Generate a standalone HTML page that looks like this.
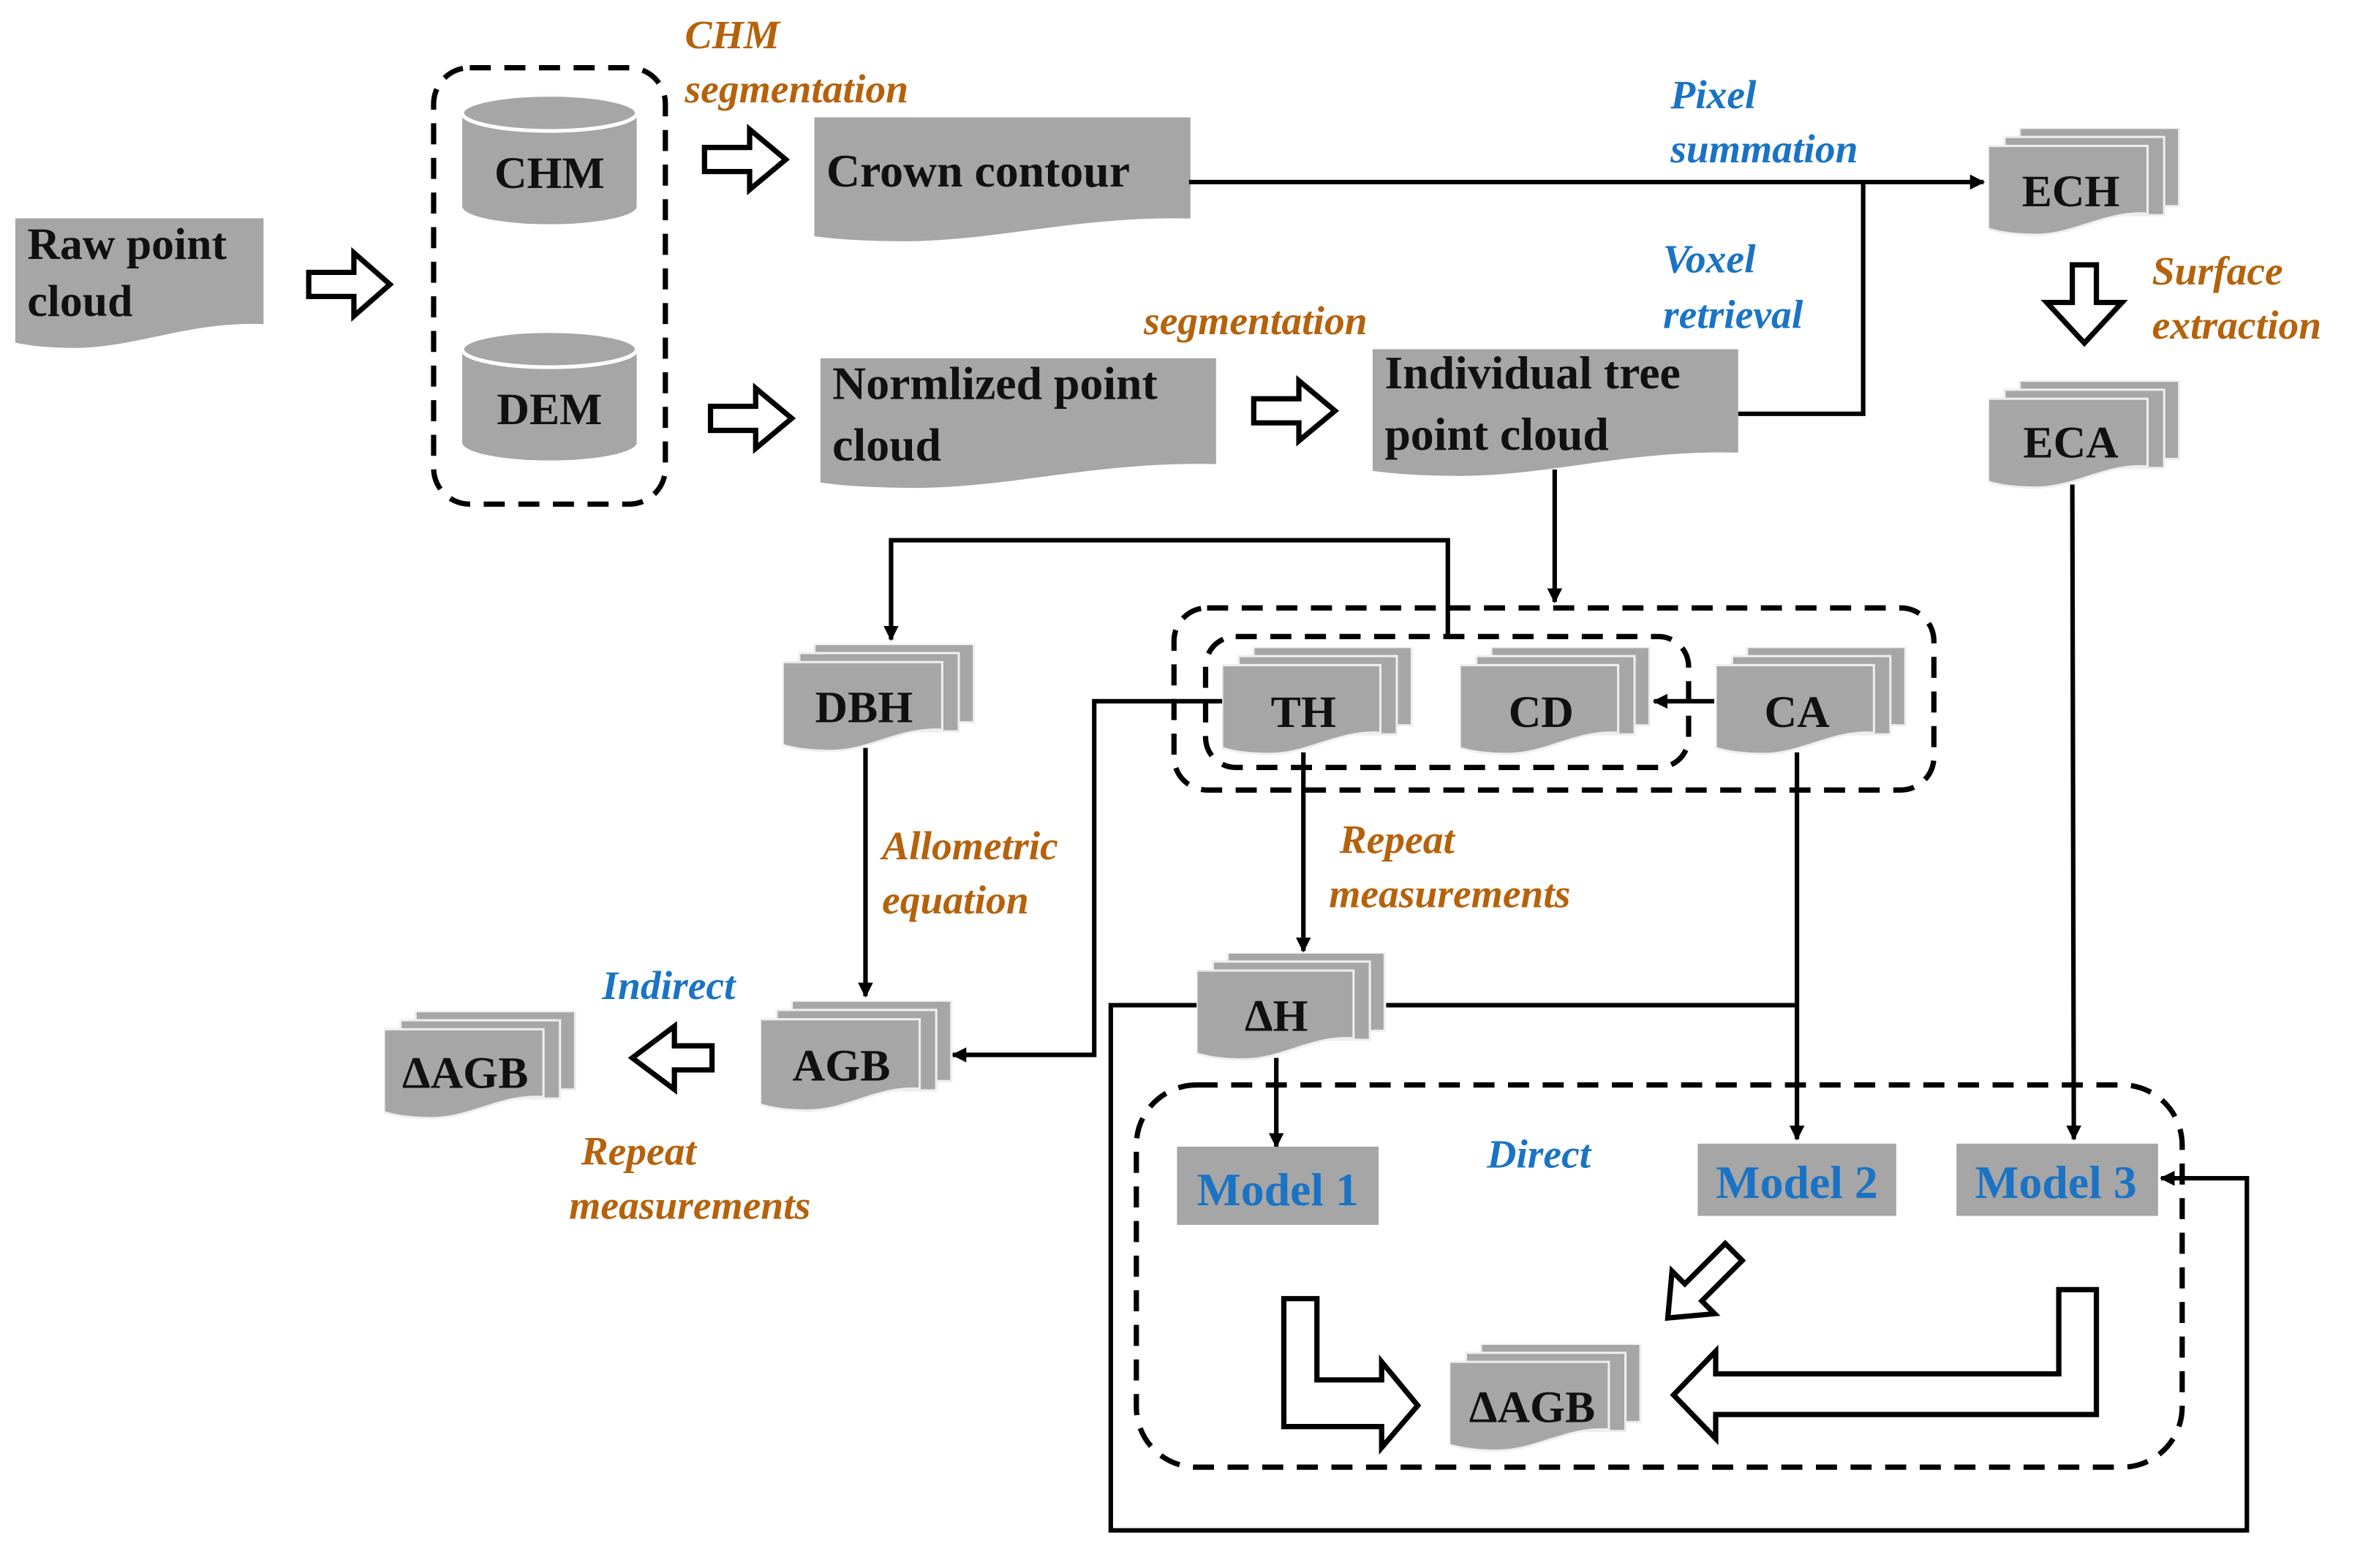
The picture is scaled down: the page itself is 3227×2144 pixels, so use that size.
<!DOCTYPE html>
<html><head><meta charset="utf-8"><style>
html,body{margin:0;padding:0;background:#fff}
svg{display:block}
.b{font-family:"Liberation Serif","DejaVu Serif","Times New Roman",serif;font-weight:bold;fill:#111}
.o{font-family:"Liberation Serif","DejaVu Serif",serif;font-weight:bold;font-style:italic;fill:#b5620c;font-size:27px}
.bl{font-family:"Liberation Serif","DejaVu Serif",serif;font-weight:bold;font-style:italic;fill:#1a73c4;font-size:27px}
.m{font-family:"Liberation Serif","DejaVu Serif",serif;font-weight:bold;fill:#1a73c4;font-size:31px}
.ln{stroke:#000;stroke-width:3;fill:none}
.ds{stroke:#000;stroke-width:3.5;fill:none;stroke-dasharray:14 9}
.ha{fill:#fff;stroke:#000;stroke-width:3.5}
</style></head><body>
<svg width="3227" height="2144" viewBox="0 0 1568 1042" xmlns="http://www.w3.org/2000/svg">
<defs>
<marker id="ar" markerWidth="10" markerHeight="10" refX="9" refY="5" orient="auto" markerUnits="userSpaceOnUse"><path d="M0,0 L10,5 L0,10 Z" fill="#000"/></marker>
<symbol id="doc" viewBox="0 0 100 100" preserveAspectRatio="none"><path d="M0,0 H100 V80 C70,78 50,97 25,98 C12,98 5,96 0,94 Z" fill="#a6a6a6"/></symbol>
<symbol id="stk" viewBox="0 0 128 72" preserveAspectRatio="none">
<rect x="21" y="0" width="106" height="52" fill="#a6a6a6" stroke="#eee" stroke-width="1.5"/>
<rect x="11" y="6" width="106" height="52" fill="#a6a6a6" stroke="#eee" stroke-width="1.5"/>
<path d="M0,12 H106 V57 C78,55 58,71 32,71 C16,71 6,69 0,67 Z" fill="#a6a6a6" stroke="#eee" stroke-width="1.5"/>
</symbol>
<symbol id="cyl" viewBox="0 0 116 86" preserveAspectRatio="none">
<path d="M0,12 V74 A58,12 0 0 0 116,74 V12 Z" fill="#a6a6a6"/>
<ellipse cx="58" cy="12" rx="58" ry="12" fill="#a6a6a6" stroke="#fff" stroke-width="2.5"/>
</symbol>
</defs>

<use href="#doc" x="10" y="145" width="165" height="88"/>
<text class="b" font-size="30" x="18" y="172">Raw point</text>
<text class="b" font-size="30" x="18" y="210">cloud</text>
<polygon class="ha" points="205,181 235,181 235,168 259,189 235,210 235,197 205,197"/>

<rect class="ds" x="288" y="45" width="154" height="290" rx="24"/>
<use href="#cyl" x="307" y="63" width="116" height="86"/>
<text class="b" font-size="30" x="365" y="125" text-anchor="middle">CHM</text>
<use href="#cyl" x="307" y="220" width="116" height="86"/>
<text class="b" font-size="30" x="365" y="282" text-anchor="middle">DEM</text>

<polygon class="ha" points="468,98 498,98 498,86 522,106 498,126 498,114 468,114"/>
<polygon class="ha" points="472,270 502,270 502,258 526,278 502,298 502,286 472,286"/>

<text class="o" x="455" y="32">CHM</text>
<text class="o" x="455" y="68">segmentation</text>

<use href="#doc" x="541" y="78" width="250" height="84"/>
<text class="b" font-size="31" x="549" y="124">Crown contour</text>

<line class="ln" x1="790" y1="121" x2="1318" y2="121" marker-end="url(#ar)"/>
<text class="bl" x="1110" y="72">Pixel</text>
<text class="bl" x="1110" y="108">summation</text>

<use href="#stk" x="1321" y="85" width="128" height="72"/>
<text class="b" font-size="30" x="1376" y="137" text-anchor="middle">ECH</text>

<polygon class="ha" points="1377,176 1393,176 1393,201 1410,201 1385,228 1360,201 1377,201"/>
<text class="o" x="1430" y="189">Surface</text>
<text class="o" x="1430" y="225">extraction</text>

<use href="#stk" x="1321" y="253" width="128" height="72"/>
<text class="b" font-size="30" x="1376" y="304" text-anchor="middle">ECA</text>

<use href="#doc" x="545" y="238" width="263" height="88"/>
<text class="b" font-size="31" x="553" y="265">Normlized point</text>
<text class="b" font-size="31" x="553" y="306">cloud</text>

<polygon class="ha" points="833,265 863,265 863,253 887,273 863,293 863,281 833,281"/>
<text class="o" x="760" y="222">segmentation</text>

<use href="#doc" x="912" y="232" width="243" height="86"/>
<text class="b" font-size="31" x="920" y="258">Individual tree</text>
<text class="b" font-size="31" x="920" y="299">point cloud</text>

<polyline class="ln" points="1155,275 1238,275 1238,121"/>
<text class="bl" x="1105" y="181">Voxel</text>
<text class="bl" x="1105" y="218">retrieval</text>

<line class="ln" x1="1033" y1="312" x2="1033" y2="400" marker-end="url(#ar)"/>

<rect class="ds" x="780" y="404" width="505" height="121" rx="22"/>
<rect class="ds" x="801" y="423" width="321" height="87" rx="20"/>
<use href="#stk" x="812" y="430" width="127" height="72"/>
<text class="b" font-size="30" x="866" y="483" text-anchor="middle">TH</text>
<use href="#stk" x="970" y="430" width="127" height="72"/>
<text class="b" font-size="30" x="1024" y="483" text-anchor="middle">CD</text>
<use href="#stk" x="1140" y="430" width="127" height="72"/>
<text class="b" font-size="30" x="1194" y="483" text-anchor="middle">CA</text>
<line class="ln" x1="1139" y1="466" x2="1099" y2="466" marker-end="url(#ar)"/>

<polyline class="ln" points="962,423 962,359 592,359 592,425" marker-end="url(#ar)"/>
<use href="#stk" x="520" y="428" width="128" height="72"/>
<text class="b" font-size="30" x="574" y="480" text-anchor="middle">DBH</text>

<line class="ln" x1="575" y1="497" x2="575" y2="662" marker-end="url(#ar)"/>
<text class="o" x="586" y="571">Allometric</text>
<text class="o" x="586" y="607">equation</text>

<polyline class="ln" points="812,466 727,466 727,701 633,701" marker-end="url(#ar)"/>
<use href="#stk" x="505" y="665" width="128" height="74"/>
<text class="b" font-size="30" x="559" y="718" text-anchor="middle">AGB</text>

<polygon class="ha" points="473,695 448,695 448,682 420,703 448,724 448,711 473,711"/>
<text class="bl" x="400" y="664">Indirect</text>
<text class="o" x="386" y="774">Repeat</text>
<text class="o" x="378" y="810">measurements</text>

<use href="#stk" x="255" y="672" width="128" height="72"/>
<text class="b" font-size="30" x="309" y="723" text-anchor="middle">ΔAGB</text>

<line class="ln" x1="866" y1="500" x2="866" y2="632" marker-end="url(#ar)"/>
<text class="o" x="890" y="567">Repeat</text>
<text class="o" x="883" y="603">measurements</text>

<use href="#stk" x="795" y="633" width="126" height="72"/>
<text class="b" font-size="30" x="848" y="685" text-anchor="middle">ΔH</text>

<line class="ln" x1="921" y1="668" x2="1195" y2="668"/>
<line class="ln" x1="1194" y1="500" x2="1194" y2="757" marker-end="url(#ar)"/>
<polyline class="ln" points="795,668 738,668 738,1017 1493,1017 1493,783 1436,783" marker-end="url(#ar)"/>
<line class="ln" x1="848" y1="703" x2="848" y2="762" marker-end="url(#ar)"/>
<line class="ln" x1="1377" y1="322" x2="1378" y2="757" marker-end="url(#ar)"/>

<rect class="ds" x="755" y="721" width="695" height="254" rx="40"/>
<rect x="782" y="762" width="134" height="52" fill="#a6a6a6"/>
<text class="m" x="849" y="801" text-anchor="middle">Model 1</text>
<rect x="1128" y="760" width="132" height="48" fill="#a6a6a6"/>
<text class="m" x="1194" y="796" text-anchor="middle">Model 2</text>
<rect x="1300" y="760" width="134" height="48" fill="#a6a6a6"/>
<text class="m" x="1366" y="796" text-anchor="middle">Model 3</text>
<text class="bl" x="988" y="776">Direct</text>

<use href="#stk" x="963" y="893" width="128" height="72"/>
<text class="b" font-size="30" x="1018" y="945" text-anchor="middle">ΔAGB</text>

<polygon class="ha" points="853,863 875,863 875,917 918,917 918,905 942,934 918,962 918,948 853,948"/>
<polygon class="ha" points="1368,857 1393,857 1393,940 1140,940 1140,956 1112,927 1140,898 1140,913 1368,913"/>
<polygon class="ha" transform="translate(1152,832) rotate(135)" points="0,-8 38,-8 38,-20 62,0 38,20 38,8 0,8"/>
</svg>
</body></html>
